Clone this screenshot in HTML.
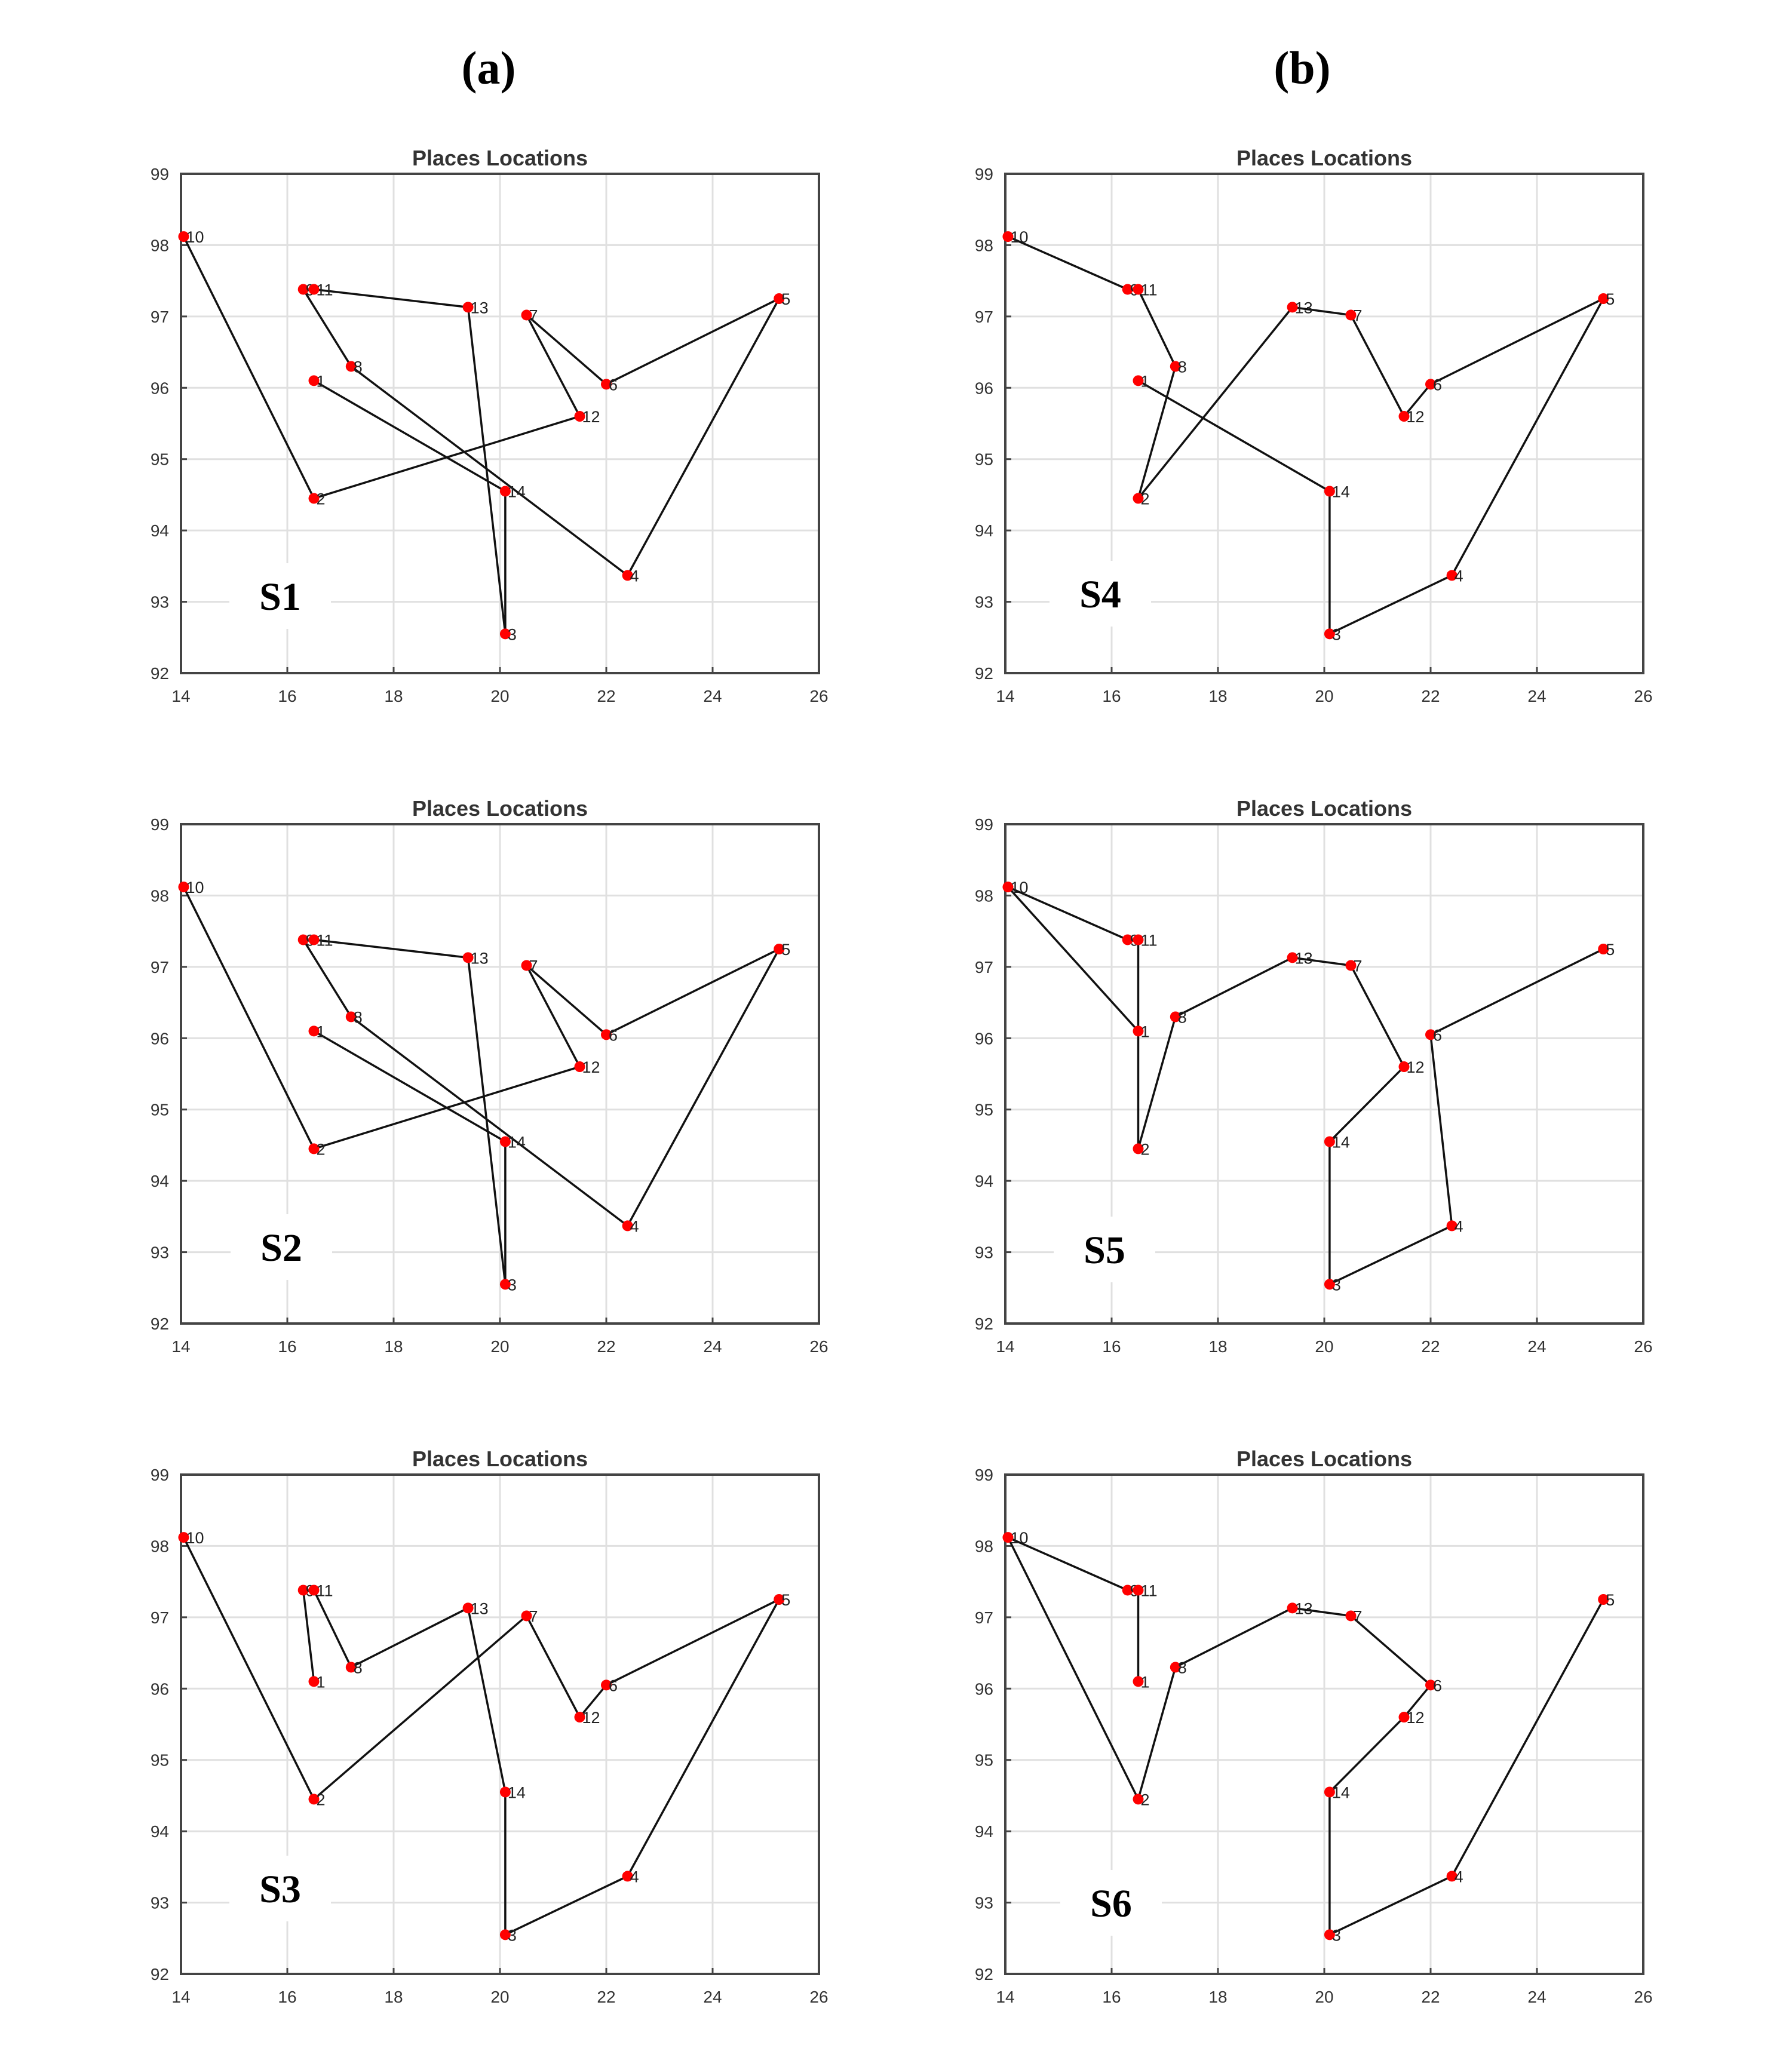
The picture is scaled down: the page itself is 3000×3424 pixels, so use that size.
<!DOCTYPE html>
<html><head><meta charset="utf-8">
<style>
html,body{margin:0;padding:0;background:#fff;}
svg{display:block;}
</style></head>
<body>
<svg id="fig" xmlns="http://www.w3.org/2000/svg" width="3000" height="3424" viewBox="0 0 3000 3424">
<rect x="0" y="0" width="3000" height="3424" fill="#fff"/>
<text x="818" y="140" font-family="Liberation Serif, serif" font-weight="bold" font-size="78" text-anchor="middle" fill="#000">(a)</text>
<text x="2180" y="140" font-family="Liberation Serif, serif" font-weight="bold" font-size="78" text-anchor="middle" fill="#000">(b)</text>
</svg>
<script>
// City coordinates
const cityIds = [1,2,3,4,5,6,7,8,9,10,11,12,13,14];
const cityX = [16.5,16.5,20.1,22.4,25.25,22.0,20.5,17.2,16.3,14.05,16.5,21.5,19.4,20.1];
const cityY = [96.1,94.45,92.55,93.37,97.25,96.05,97.02,96.3,97.38,98.12,97.38,95.6,97.13,94.55];
// Tours (sequence of city ids)
const tourS1 = [10,2,12,7,6,5,4,8,9,11,13,3,14,1];
const tourS2 = [10,2,12,7,6,5,4,8,9,11,13,3,14,1];
const tourS3 = [10,2,7,12,6,5,4,3,14,13,8,11,9,1];
const tourS4 = [10,9,11,8,2,13,7,12,6,5,4,3,14,1];
const tourS5 = [5,6,4,3,14,12,7,13,8,2,11,9,10,1];
const tourS6 = [1,11,9,10,2,8,13,7,6,12,14,3,4,5];
const xTicks = [14,16,18,20,22,24,26];
const yTicks = [92,93,94,95,96,97,98,99];
const panelNames = ["S1","S2","S3","S4","S5","S6"];

const NS = "http://www.w3.org/2000/svg";
const svg = document.getElementById('fig');
function mk(tag, attrs, parent){
  const e = document.createElementNS(NS, tag);
  for (const k in attrs) e.setAttribute(k, attrs[k]);
  (parent||svg).appendChild(e);
  return e;
}
const panels = [
  {tour:tourS1,left:303,top:291,lx:469,ly:998},
  {tour:tourS2,left:303,top:1380,lx:471,ly:2088},
  {tour:tourS3,left:303,top:2469,lx:469,ly:3162},
  {tour:tourS4,left:1683,top:291,lx:1842,ly:994},
  {tour:tourS5,left:1683,top:1380,lx:1849,ly:2092},
  {tour:tourS6,left:1683,top:2469,lx:1860,ly:3186}
];
const W = 1068, H = 836;
const order = [0,3,1,4,2,5];
panels.forEach((p, i) => {
  const name = panelNames[i];
  const g = mk('g', {});
  
  
  const sx = v => p.left + (v - 14) / 12 * W;
  const sy = v => p.top + H - (v - 92) / 7 * H;
  // gridlines
  xTicks.forEach(t => {
    const l = mk('line', {x1:sx(t),x2:sx(t),y1:p.top,y2:p.top+H,stroke:'#e0e0e0','stroke-width':3}, g);
    
    
    const tk = mk('line', {x1:sx(t),x2:sx(t),y1:p.top+H,y2:p.top+H-10,stroke:'#444','stroke-width':3}, g);
    
    
    const tx = mk('text', {x:sx(t),y:p.top+H+48,'font-family':'Liberation Sans, sans-serif','font-size':28,'text-anchor':'middle',fill:'#333'}, g);
    tx.textContent = t;
    
    
  });
  yTicks.forEach(t => {
    const l = mk('line', {x1:p.left,x2:p.left+W,y1:sy(t),y2:sy(t),stroke:'#e0e0e0','stroke-width':3}, g);
    
    
    const tk = mk('line', {x1:p.left,x2:p.left+10,y1:sy(t),y2:sy(t),stroke:'#444','stroke-width':3}, g);
    
    
    const tx = mk('text', {x:p.left-20,y:sy(t)+10,'font-family':'Liberation Sans, sans-serif','font-size':28,'text-anchor':'end',fill:'#333'}, g);
    tx.textContent = t;
    
    
  });
  // panel label with white box
  const bx = mk('rect', {x:p.lx-85,y:p.ly-55,width:170,height:110,fill:'#fff'}, g);
  
  
  // axes frame
  const fr = mk('rect', {x:p.left,y:p.top,width:W,height:H,fill:'none',stroke:'#444','stroke-width':4}, g);
  
  
  const title = mk('text', {x:p.left+W/2,y:p.top-14,'font-family':'Liberation Sans, sans-serif','font-size':36,'font-weight':'bold','text-anchor':'middle',fill:'#333'}, g);
  title.textContent = 'Places Locations';
  
  
  // tour path
  const pts = p.tour.map(id => { const k = cityIds.indexOf(id); return sx(cityX[k]) + ',' + sy(cityY[k]); }).join(' ');
  const pl = mk('polyline', {points:pts,fill:'none',stroke:'#111','stroke-width':3.5,'stroke-linejoin':'round'}, g);
  
  
  // markers & labels
  cityIds.forEach((id, k) => {
    const c = mk('circle', {cx:sx(cityX[k]),cy:sy(cityY[k]),r:9,fill:'#ff0000'}, g);
    
    
    const t = mk('text', {x:sx(cityX[k])+4,y:sy(cityY[k])+10,'font-family':'Liberation Sans, sans-serif','font-size':27,fill:'#222'}, g);
    t.textContent = id;
    
    
  });
  const lbl = mk('text', {x:p.lx,y:p.ly+23,'font-family':'Liberation Serif, serif','font-size':66,'font-weight':'bold','text-anchor':'middle',fill:'#000'}, g);
  lbl.textContent = name;
  
  
});
</script>
</body></html>
